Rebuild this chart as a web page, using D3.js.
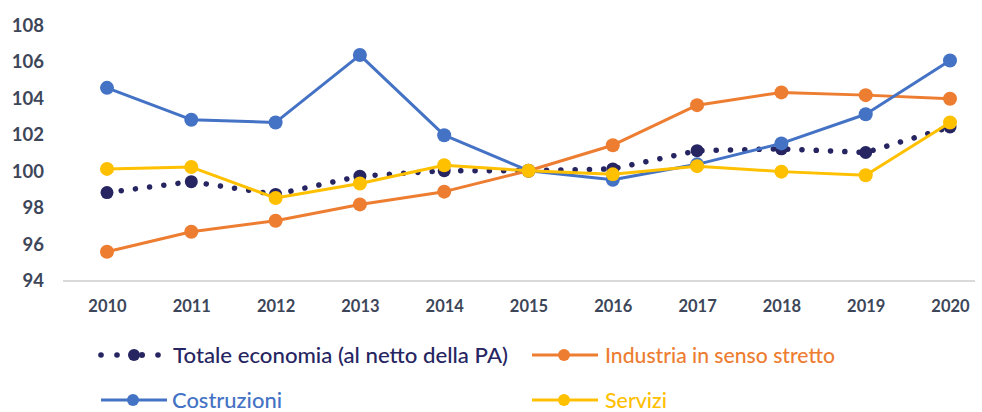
<!DOCTYPE html>
<html><head><meta charset="utf-8">
<script src="https://cdn.jsdelivr.net/npm/d3@7"></script>
<style>body{margin:0;background:#fff}svg{display:block}</style>
</head><body>
<script>
const years = ["2010","2011","2012","2013","2014","2015","2016","2017","2018","2019","2020"];
const totale = [98.8,99.4,98.7,99.7,100.0,100.0,100.1,101.1,101.2,101.0,102.4];
const industria = [95.55,96.65,97.25,98.15,98.85,100.0,101.4,103.6,104.3,104.15,103.95];
const costruzioni = [104.55,102.8,102.65,106.35,101.95,100.0,99.5,100.35,101.5,103.1,106.05];
const servizi = [100.1,100.2,98.5,99.3,100.3,100.0,99.8,100.25,99.95,99.75,102.65];
const yTicks = [94,96,98,100,102,104,106,108];
const names = ["Totale economia (al netto della PA)","Industria in senso stretto","Costruzioni","Servizi"];

const W=982,H=412;
const svg=d3.select("body").append("svg").attr("width",W).attr("height",H);
const x=d3.scalePoint().domain(years).range([107,950]);
const y=d3.scaleLinear().domain([94,108]).range([280,25]);
const font="Lato, 'Open Sans', sans-serif";
const tickCol="#3d4659";

// baseline
svg.append("line").attr("x1",63).attr("x2",975).attr("y1",y(94)+1).attr("y2",y(94)+1)
  .attr("stroke","#d9d9d9").attr("stroke-width",2);

// y axis labels
const yAxis=d3.axisLeft(y).tickValues(yTicks).tickSize(0).tickPadding(0);
const gy=svg.append("g").attr("transform","translate(44,0)").call(yAxis);
gy.select(".domain").remove();
gy.selectAll("text").attr("font-family",font).attr("font-weight","bold").attr("font-size",18.5)
  .attr("fill",tickCol).attr("dy","0.35em");

// x axis labels
const xAxis=d3.axisBottom(x).tickSize(0).tickPadding(0);
const gx=svg.append("g").attr("transform","translate(0,300)").call(xAxis);
gx.select(".domain").remove();
gx.selectAll("text").attr("font-family",font).attr("font-weight","bold").attr("font-size",16.5)
  .attr("fill",tickCol).attr("dy","0.71em");

const series=[
  {name:names[0],vals:totale,color:"#262561",dotted:true,r:6.5},
  {name:names[1],vals:industria,color:"#ED7D31",r:7},
  {name:names[2],vals:costruzioni,color:"#4472C4",r:7},
  {name:names[3],vals:servizi,color:"#FFC000",r:7}
];
const line=d3.line().x((d,i)=>x(years[i])).y(d=>y(d));
series.forEach(s=>{
  const g=svg.append("g");
  const p=g.append("path").attr("d",line(s.vals)).attr("fill","none").attr("stroke",s.color);
  if(s.dotted){p.attr("stroke-width",5.5).attr("stroke-dasharray","0.1 14.2").attr("stroke-linecap","round");}
  else p.attr("stroke-width",3).attr("stroke-linejoin","round");
  g.selectAll("circle").data(s.vals).join("circle")
    .attr("cx",(d,i)=>x(years[i])).attr("cy",d=>y(d)).attr("r",s.r).attr("fill",s.color);
});

// legend
const leg=[
  {s:series[0],x0:101,tx:173,ty:355,tw:335},
  {s:series[1],x0:532,tx:605,ty:355,tw:230},
  {s:series[2],x0:101,tx:172,ty:400,tw:110},
  {s:series[3],x0:532,tx:605,ty:400,tw:62}
];
leg.forEach(l=>{
  const g=svg.append("g");
  const s=l.s;
  if(s.dotted){
    [l.x0,l.x0+16,l.x0+57].forEach(cx=>g.append("circle").attr("cx",cx).attr("cy",l.ty).attr("r",2.8).attr("fill",s.color));
    g.append("circle").attr("cx",l.x0+33).attr("cy",l.ty).attr("r",6).attr("fill",s.color);
    g.append("circle").attr("cx",l.x0+41).attr("cy",l.ty).attr("r",3).attr("fill",s.color);
  } else {
    g.append("line").attr("x1",l.x0).attr("x2",l.x0+66).attr("y1",l.ty).attr("y2",l.ty).attr("stroke",s.color).attr("stroke-width",3);
    g.append("circle").attr("cx",l.x0+32).attr("cy",l.ty).attr("r",6).attr("fill",s.color);
  }
  g.append("text").attr("x",l.tx).attr("y",l.ty).attr("dy","0.35em").text(s.name)
    .attr("font-family",font).attr("font-size",21.5).attr("font-weight",500).attr("fill",s.color)
    .attr("textLength",l.tw).attr("lengthAdjust","spacingAndGlyphs");
});
</script>
</body></html>
